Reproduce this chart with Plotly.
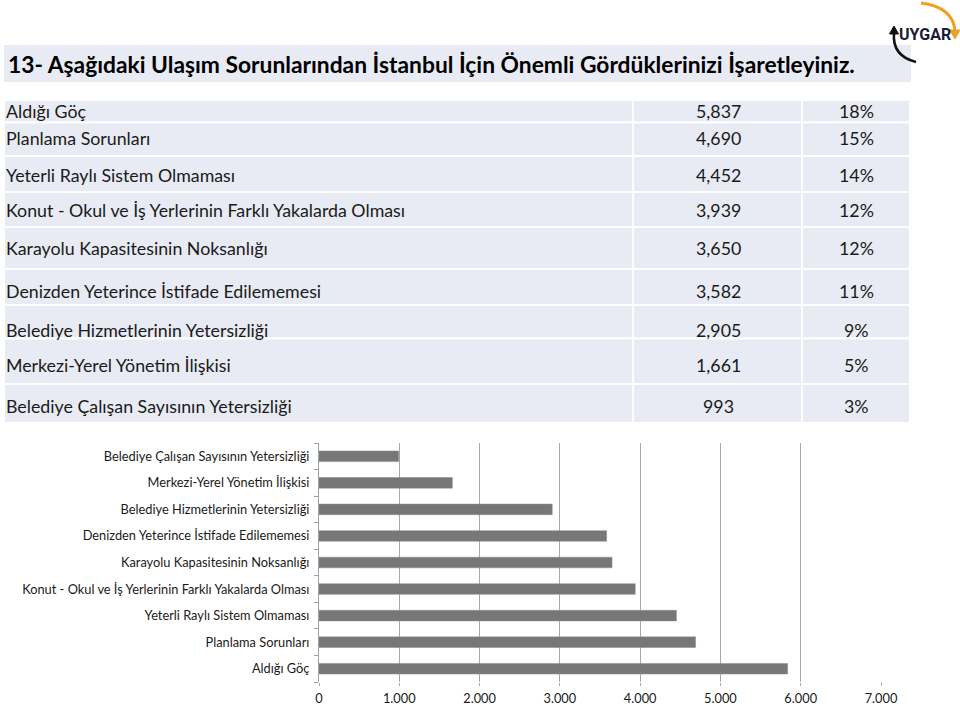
import plotly.graph_objects as go

# ---------------- data ----------------
title_text = "13- Aşağıdaki Ulaşım Sorunlarından İstanbul İçin Önemli Gördüklerinizi İşaretleyiniz."
categories = [
    "Aldığı Göç",
    "Planlama Sorunları",
    "Yeterli Raylı Sistem Olmaması",
    "Konut - Okul ve İş Yerlerinin Farklı Yakalarda Olması",
    "Karayolu Kapasitesinin Noksanlığı",
    "Denizden Yeterince İstifade Edilememesi",
    "Belediye Hizmetlerinin Yetersizliği",
    "Merkezi-Yerel Yönetim İlişkisi",
    "Belediye Çalışan Sayısının Yetersizliği",
]
counts = [5837, 4690, 4452, 3939, 3650, 3582, 2905, 1661, 993]
count_labels = ["5,837", "4,690", "4,452", "3,939", "3,650", "3,582", "2,905", "1,661", "993"]
percent_labels = ["18%", "15%", "14%", "12%", "12%", "11%", "9%", "5%", "3%"]
x_tickvals = [0, 1000, 2000, 3000, 4000, 5000, 6000, 7000]
x_ticktext = ["0", "1.000", "2.000", "3.000", "4.000", "5.000", "6.000", "7.000"]

# ---------------- layout geometry (pixels) ----------------
W, H = 960, 708
L, R, T, B = 319, 79, 443, 26
PW, PH = W - L - R, H - T - B

def px(x):
    return (x - L) / PW

def py(y):
    return (H - B - y) / PH

FONT = "Lato"
TXT = "#1a1a1a"
BAND = "#e8ebf3"

fig = go.Figure()
fig.add_trace(go.Bar(
    y=categories, x=counts, orientation="h",
    marker=dict(color="#777777", line=dict(color="#8a8a8a", width=0.5)),
    hoverinfo="x+y",
))

shapes = []
annotations = []

# title band
shapes.append(dict(type="rect", xref="paper", yref="paper",
                   x0=px(4), x1=px(911), y0=py(82), y1=py(45),
                   fillcolor=BAND, line=dict(width=0), layer="below"))
annotations.append(dict(xref="paper", yref="paper", x=px(6), y=py(63.5),
                        xanchor="left", yanchor="middle", showarrow=False,
                        text="<b>" + title_text + "</b>",
                        font=dict(family=FONT, size=22.8, color="#000000")))

# table
row_edges = [100, 122.5, 156, 192, 227, 269, 305, 338.5, 384, 423]
text_y = [111, 138.5, 175, 210, 248, 291, 330, 365, 405.5]
col_edges = [4, 633, 802, 910]
TFS = 17.8
for i in range(len(categories)):
    for j in range(3):
        shapes.append(dict(type="rect", xref="paper", yref="paper",
                           x0=px(col_edges[j]), x1=px(col_edges[j + 1]),
                           y0=py(row_edges[i + 1]), y1=py(row_edges[i]),
                           fillcolor=BAND, line=dict(color="white", width=2),
                           layer="below"))
    annotations.append(dict(xref="paper", yref="paper", x=px(4), y=py(text_y[i]),
                            xanchor="left", yanchor="middle", showarrow=False,
                            text=categories[i],
                            font=dict(family=FONT, size=TFS, color=TXT)))
    annotations.append(dict(xref="paper", yref="paper", x=px(718), y=py(text_y[i]),
                            xanchor="center", yanchor="middle", showarrow=False,
                            text=count_labels[i],
                            font=dict(family=FONT, size=TFS, color=TXT)))
    annotations.append(dict(xref="paper", yref="paper", x=px(856), y=py(text_y[i]),
                            xanchor="center", yanchor="middle", showarrow=False,
                            text=percent_labels[i],
                            font=dict(family=FONT, size=TFS, color=TXT)))

# logo
def pt(x, y):
    return f"{px(x):.5f},{py(y):.5f}"

orange = "M " + pt(921, 3) + " Q " + pt(953, 7) + " " + pt(955, 31)
shapes.append(dict(type="path", xref="paper", yref="paper", path=orange,
                   line=dict(color="#f0a020", width=3)))
shapes.append(dict(type="path", xref="paper", yref="paper",
                   path="M " + pt(950, 30) + " L " + pt(960, 30) + " L " + pt(955, 39) + " Z",
                   fillcolor="#f0a020", line=dict(color="#f0a020", width=1)))
black = "M " + pt(894, 33) + " Q " + pt(892, 56) + " " + pt(916, 62)
shapes.append(dict(type="path", xref="paper", yref="paper", path=black,
                   line=dict(color="#111111", width=2.5)))
shapes.append(dict(type="path", xref="paper", yref="paper",
                   path="M " + pt(889.5, 34) + " L " + pt(898.5, 34) + " L " + pt(894, 26) + " Z",
                   fillcolor="#111111", line=dict(color="#111111", width=1)))
annotations.append(dict(xref="paper", yref="paper", x=px(925), y=py(34),
                        xanchor="center", yanchor="middle", showarrow=False,
                        text="<b>UYGAR</b>",
                        font=dict(family="Roboto", size=16, color="#1b1b3a")))

fig.update_layout(
    width=W, height=H,
    margin=dict(l=L, r=R, t=T, b=B, pad=0, autoexpand=False),
    paper_bgcolor="white", plot_bgcolor="white",
    showlegend=False, bargap=0.6,
    shapes=shapes, annotations=annotations,
    font=dict(family=FONT, color=TXT),
    xaxis=dict(range=[0, 7000], tickvals=x_tickvals, ticktext=x_ticktext,
               showgrid=True, gridcolor="#a8a8a8", gridwidth=1,
               showline=False,
               ticks="outside", ticklen=3, tickcolor="#a8a8a8",
               tickfont=dict(family=FONT, size=12.8, color=TXT),
               ticklabelstandoff=2, zeroline=False, fixedrange=True,
               automargin=False),
    yaxis=dict(type="category", showline=True, linecolor="#a0a0a0", linewidth=1,
               ticks="outside", ticklen=4, tickcolor="#a0a0a0", tickson="boundaries",
               showgrid=False, tickfont=dict(family=FONT, size=12.8, color=TXT),
               ticklabelstandoff=6, fixedrange=True, automargin=False),
)

fig.write_html("out.html")
